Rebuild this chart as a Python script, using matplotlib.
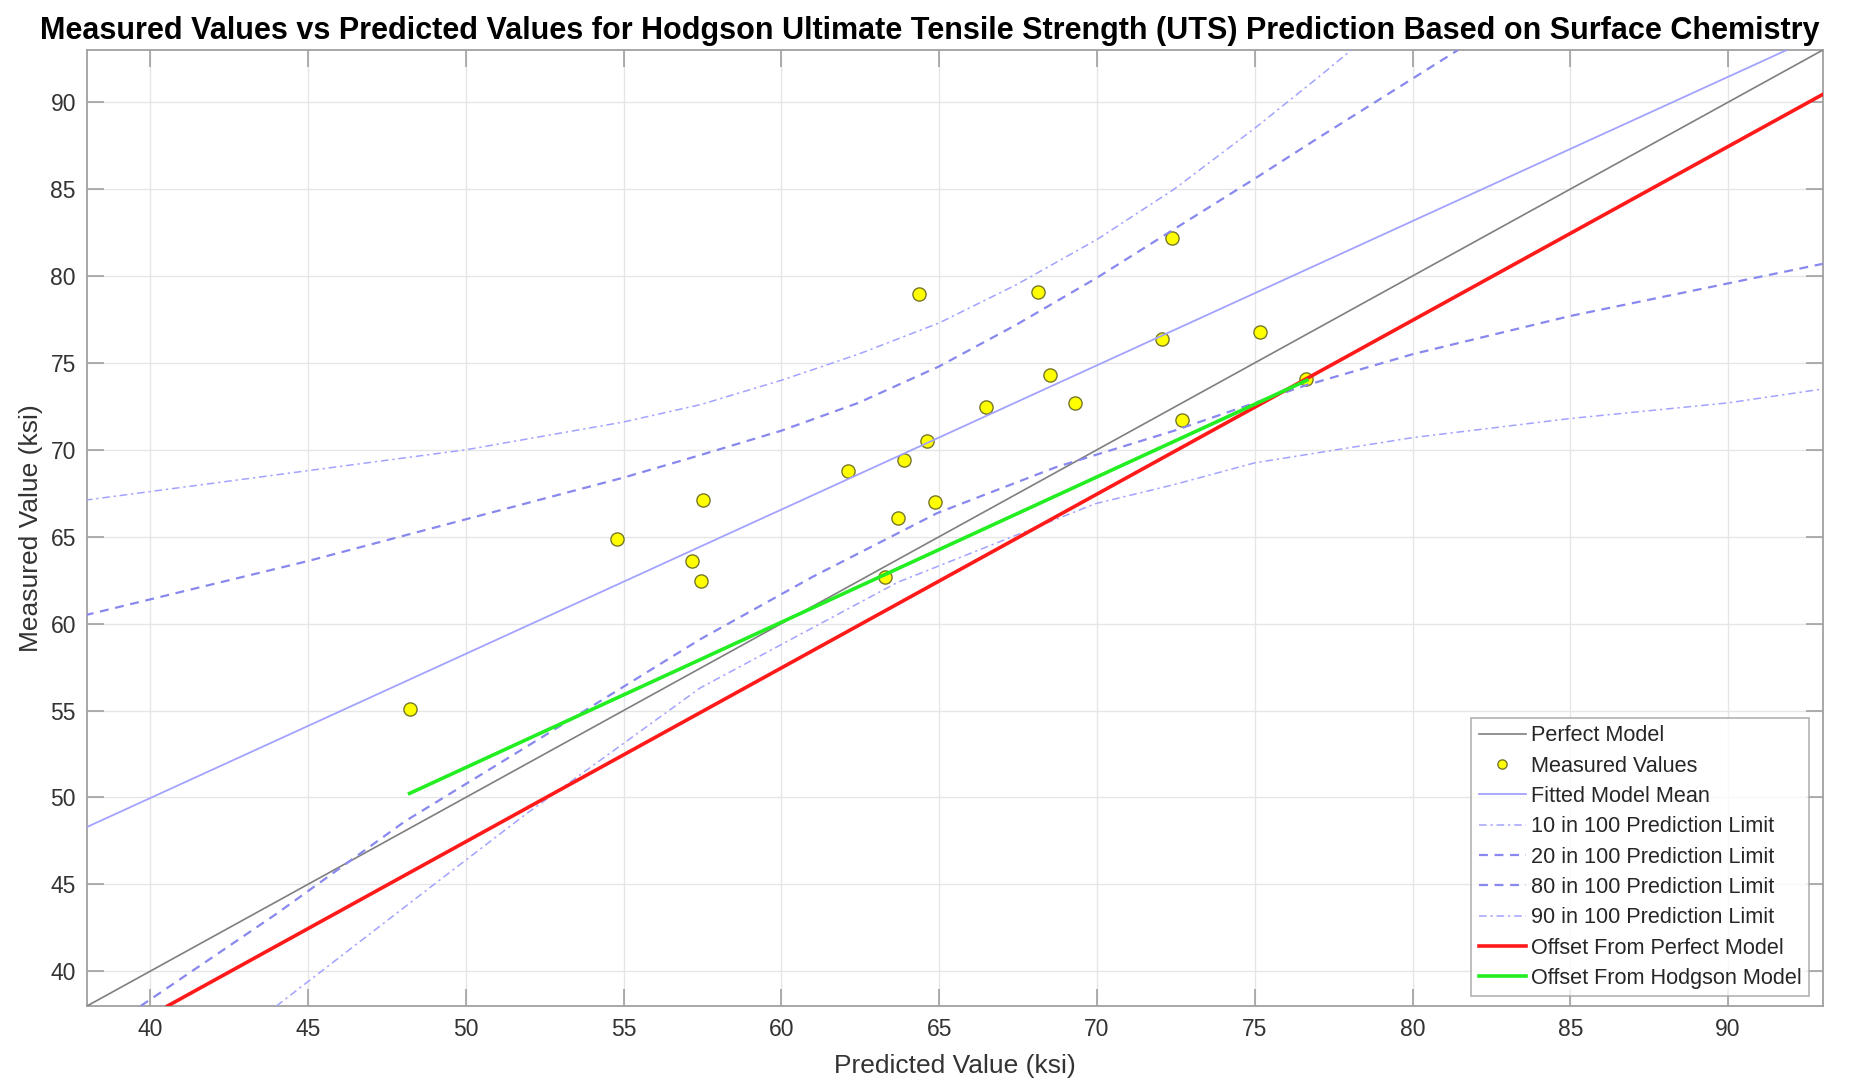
import matplotlib
matplotlib.use("Agg")
import matplotlib.pyplot as plt

plt.rcParams['font.family'] = ['Liberation Sans', 'DejaVu Sans']

# ---- data ----
perfect_x = [38, 93]
perfect_y = [38, 93]

meas_x = [48.22, 54.79, 57.17, 57.45, 57.53, 62.12, 63.27, 63.69, 63.89, 64.36, 64.6,
          64.86, 66.47, 68.12, 68.5, 69.3, 72.07, 72.37, 72.7, 75.18, 76.62]
meas_y = [55.08, 64.85, 63.6, 62.45, 67.14, 68.76, 62.7, 66.05, 69.43, 78.97, 70.48,
          67.0, 72.44, 79.08, 74.29, 72.69, 76.35, 82.18, 71.74, 76.79, 74.1]

fit_x = [38, 93]
fit_y = [48.3, 93.95]

# upper outer limit (90 in 100)
p90_x = [37.93, 45, 50, 55, 57.44, 60, 62.44, 65, 67.45, 70, 72.45, 75, 77.06, 78.06]
p90_y = [67.1, 68.8, 70.0, 71.6, 72.6, 74.0, 75.5, 77.3, 79.5, 82.1, 85.0, 88.5, 91.5, 93.0]
# upper inner limit (80 in 100)
p80_x = [37.93, 45, 50, 55, 57.44, 60, 62.44, 65, 67.45, 70, 72.45, 75, 77.06, 81.44]
p80_y = [60.48, 63.6, 66.0, 68.4, 69.7, 71.1, 72.7, 74.8, 77.2, 79.9, 82.7, 85.6, 88.0, 93.0]
# lower inner limit (20 in 100)
p20_x = [39.7, 44, 48.07, 52, 57.43, 61, 64.94, 68.7, 72.45, 76.6, 80, 85, 93]
p20_y = [38.0, 43.3, 48.62, 53.0, 59.1, 62.7, 66.36, 69.0, 71.1, 73.7, 75.5, 77.7, 80.7]
# lower outer limit (10 in 100)
p10_x = [44.0, 49.07, 51.95, 57.43, 63.69, 69.95, 72.45, 75, 80, 85, 90, 93]
p10_y = [38.0, 45.1, 49.1, 56.3, 62.38, 66.9, 68.0, 69.25, 70.7, 71.8, 72.7, 73.5]

red_x = [40.55, 93]
red_y = [38.0, 90.45]

green_x = [48.22, 76.65]
green_y = [50.23, 74.0]

ticks = [40, 45, 50, 55, 60, 65, 70, 75, 80, 85, 90]

# ---- figure ----
fig = plt.figure(figsize=(18.6, 10.81), dpi=100)
ax = fig.add_axes([0.0468, 0.0694, 0.9332, 0.8843])

light_blue = '#a3a3ff'
mid_blue = '#8888ee'

ax.plot(perfect_x, perfect_y, color='#7f7f7f', lw=1.2, label='Perfect Model', zorder=3)
ax.plot(meas_x, meas_y, linestyle='none', marker='o', ms=9.5, mfc='#ffff00',
        mec='#77772a', mew=1.0, label='Measured Values', zorder=4)
ax.plot(fit_x, fit_y, color=light_blue, lw=1.3, label='Fitted Model Mean', zorder=5)
ax.plot(p10_x, p10_y, color=light_blue, lw=1.1, dashes=(5, 2.5, 1.5, 2.5),
        label='10 in 100 Prediction Limit', zorder=5)
ax.plot(p20_x, p20_y, color=mid_blue, lw=1.6, dashes=(4, 3),
        label='20 in 100 Prediction Limit', zorder=5)
ax.plot(p80_x, p80_y, color=mid_blue, lw=1.6, dashes=(4, 3),
        label='80 in 100 Prediction Limit', zorder=5)
ax.plot(p90_x, p90_y, color=light_blue, lw=1.1, dashes=(5, 2.5, 1.5, 2.5),
        label='90 in 100 Prediction Limit', zorder=5)
ax.plot(red_x, red_y, color='#ff1a1a', lw=2.6, label='Offset From Perfect Model', zorder=6)
ax.plot(green_x, green_y, color='#22ee22', lw=2.6, label='Offset From Hodgson Model', zorder=7)

ax.set_xlim(38, 93)
ax.set_ylim(38, 93)
ax.set_xticks(ticks)
ax.set_yticks(ticks)
ax.grid(True, color='#e6e6e6', lw=1.0)
ax.set_axisbelow(True)

for s in ax.spines.values():
    s.set_color('#a0a0a0')
    s.set_linewidth(1.3)
ax.tick_params(direction='in', length=12, width=1.2, color='#a0a0a0',
               top=True, right=True, labelsize=16.5, labelcolor='#333333')
ax.tick_params(axis='x', pad=9)
ax.tick_params(axis='y', pad=8)

ax.set_xlabel('Predicted Value (ksi)', fontsize=19, color='#333333', labelpad=9)
ax.set_ylabel('Measured Value (ksi)', fontsize=19, color='#333333', labelpad=5)
ax.set_title('Measured Values vs Predicted Values for Hodgson Ultimate Tensile Strength (UTS) '
             'Prediction Based on Surface Chemistry', fontsize=22, fontweight='bold',
             pad=8, x=0.4856)

leg = ax.legend(loc='lower right', fontsize=15.6, frameon=True, fancybox=False,
                edgecolor='#a0a0a0', labelspacing=0.43, handlelength=2.2,
                handletextpad=0.2, borderpad=0.35, borderaxespad=0,
                bbox_to_anchor=(0.992, 0.01), markerscale=0.7)
leg.get_frame().set_linewidth(1.2)
for t in leg.get_texts():
    t.set_color('#262626')

fig.savefig('out.png', dpi=100)
